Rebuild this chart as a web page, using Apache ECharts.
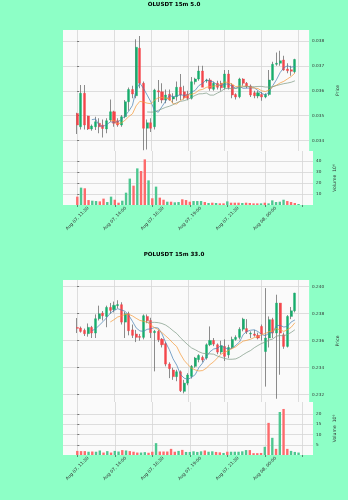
<!DOCTYPE html>
<html><head><meta charset="utf-8">
<script src="https://cdn.jsdelivr.net/npm/echarts@6/dist/echarts.min.js"></script>
<style>html,body{margin:0;padding:0;background:#8dffc6;}#c{width:348px;height:500px;}</style>
</head><body><div id="c"></div>
<script>
// ---------- data ----------
const xTickLabels = ['Aug 07, 11:30','Aug 07, 14:00','Aug 07, 16:30','Aug 07, 19:00','Aug 07, 21:30','Aug 08, 00:00'];
const xTickPositions = [0,10,20,30,40,50,60];
const xLabelPositions = [0,10,20,30,40,50];

const olTitle = 'OLUSDT 15m 5.0';
const olOpen = [0.03509,0.03456,0.0359,0.03499,0.03447,0.03456,0.0347,0.03463,0.03447,0.03483,
 0.03516,0.0348,0.03463,0.03496,0.03556,0.03605,0.0358,0.0377,0.0363,0.0345,
 0.03472,0.03456,0.036,0.03596,0.03563,0.03586,0.03567,0.03576,0.03614,0.03596,
 0.03586,0.0357,0.03636,0.03647,0.03679,0.03639,0.03643,0.03606,0.0363,0.0363,
 0.03613,0.03667,0.03623,0.03585,0.03576,0.03647,0.0363,0.03619,0.03592,0.03579,
 0.03585,0.03575,0.03585,0.03643,0.03706,0.0371,0.03723,0.03687,0.03684,0.03676];
const olHigh = [0.03512,0.03623,0.03623,0.0350,0.03465,0.03496,0.0349,0.03485,0.0349,0.03565,
 0.0352,0.0349,0.03503,0.03563,0.03613,0.0362,0.03806,0.03819,0.03637,0.03485,
 0.0349,0.03608,0.03643,0.0363,0.03605,0.03605,0.0359,0.03637,0.03667,0.0362,
 0.036,0.03655,0.03652,0.037,0.037,0.03648,0.0365,0.03636,0.0364,0.0364,
 0.03683,0.03683,0.0363,0.0359,0.03652,0.0365,0.03635,0.03625,0.036,0.036,
 0.03595,0.0359,0.03683,0.03716,0.03753,0.0376,0.0374,0.0371,0.037,0.03728];
const olLow = [0.03427,0.03445,0.03445,0.03443,0.0344,0.03443,0.0343,0.03413,0.0343,0.03476,
 0.03456,0.03456,0.03456,0.0349,0.0352,0.0357,0.0357,0.0361,0.03362,0.03365,
 0.03435,0.03445,0.03555,0.0355,0.0355,0.0356,0.0355,0.0356,0.03563,0.03565,
 0.03562,0.03565,0.03625,0.0364,0.03625,0.03632,0.036,0.036,0.03605,0.036,
 0.03605,0.03605,0.0357,0.03565,0.0357,0.0362,0.0361,0.03575,0.0357,0.0357,
 0.0356,0.0357,0.0358,0.0364,0.037,0.037,0.0368,0.0367,0.0366,0.0367];
const olClose = [0.03463,0.0359,0.03463,0.03447,0.03459,0.03476,0.03456,0.03449,0.0348,0.03516,
 0.0347,0.03463,0.03496,0.03556,0.03605,0.03587,0.03774,0.0363,0.0345,0.03472,
 0.0345,0.03603,0.03595,0.03563,0.03583,0.03563,0.03576,0.03614,0.03583,0.03572,
 0.0357,0.03636,0.03647,0.03679,0.03614,0.03643,0.03609,0.0363,0.03614,0.03612,
 0.03667,0.03613,0.03583,0.03575,0.03647,0.0363,0.03619,0.03583,0.0358,0.03592,
 0.03575,0.03585,0.03643,0.03706,0.0371,0.0372,0.03683,0.0368,0.03678,0.03725];
const olVolume = [7.6,15.8,15.2,4.5,3.9,3.6,3.3,5.8,2.7,7.6,
 4.8,2.1,3.9,11.2,24,17.6,33.3,30.9,41.5,22.4,
 6.1,16.7,6.7,4.8,3.0,3.0,2.4,2.7,5.2,4.5,
 3.0,3.6,3.6,3.6,2.7,1.8,2.1,1.8,1.5,1.5,
 3.3,2.1,2.1,2.1,1.8,2.1,1.8,1.5,1.5,1.5,
 2.1,1.5,4.2,2.7,3.0,4.8,3.6,2.7,1.8,0.9];
const olPriceTicks = [0.034,0.035,0.036,0.037,0.038];
const olVolTicks = [10,20,30,40];

const polTitle = 'POLUSDT 15m 33.0';
const polOpen = [0.23698,0.23694,0.23677,0.23652,0.23699,0.23657,0.23763,0.23805,0.2378,0.23847,
 0.2383,0.2386,0.23867,0.23738,0.238,0.2368,0.2365,0.23632,0.23625,0.2378,
 0.2375,0.2366,0.2367,0.23612,0.23578,0.23427,0.23383,0.23334,0.2337,0.23225,
 0.23286,0.23336,0.2341,0.2346,0.23477,0.23472,0.2357,0.23602,0.2357,0.23516,
 0.23558,0.23495,0.2355,0.2361,0.23625,0.23685,0.2369,0.2365,0.2365,0.2364,
 0.23706,0.2352,0.2362,0.23756,0.23657,0.23879,0.23644,0.23558,0.2378,0.23822];
const polHigh = [0.23768,0.23705,0.2369,0.23728,0.2371,0.23795,0.2386,0.2382,0.2386,0.2388,
 0.2389,0.239,0.23885,0.23815,0.23815,0.2372,0.2368,0.2365,0.23795,0.23795,
 0.2377,0.2368,0.2368,0.2362,0.2359,0.2344,0.234,0.23385,0.2338,0.2331,
 0.2336,0.2342,0.2348,0.235,0.2349,0.2358,0.23706,0.2362,0.2358,0.236,
 0.2361,0.2357,0.2363,0.2364,0.237,0.2377,0.2376,0.2367,0.2368,0.2366,
 0.2372,0.2399,0.2378,0.2377,0.23941,0.2388,0.2366,0.2379,0.2385,0.23955];
const polLow = [0.23657,0.2366,0.23635,0.2363,0.2362,0.2362,0.2375,0.2375,0.237,0.238,
 0.2381,0.2384,0.2372,0.2362,0.2364,0.2362,0.2359,0.236,0.2361,0.2373,
 0.2362,0.23373,0.2359,0.2355,0.2341,0.23323,0.2331,0.233,0.2322,0.2321,
 0.2327,0.2332,0.234,0.2344,0.2344,0.2346,0.2356,0.2356,0.235,0.235,
 0.2345,0.2347,0.2354,0.236,0.2361,0.2367,0.2365,0.2362,0.2363,0.2361,
 0.236,0.2326,0.2355,0.2362,0.2317,0.23348,0.2354,0.2355,0.2376,0.2381];
const polClose = [0.23692,0.23669,0.23652,0.23699,0.23657,0.23763,0.238,0.23785,0.23847,0.23825,
 0.23862,0.23868,0.23738,0.238,0.23674,0.2364,0.23625,0.23625,0.23785,0.23748,
 0.2366,0.2367,0.23607,0.2357,0.23427,0.23393,0.23334,0.2337,0.2323,0.23286,
 0.23346,0.2341,0.23472,0.23491,0.23457,0.2357,0.23602,0.23575,0.23516,0.23563,
 0.23484,0.2355,0.2361,0.23625,0.23685,0.2376,0.23665,0.23655,0.2364,0.2362,
 0.2365,0.2362,0.23756,0.23657,0.23879,0.23657,0.23558,0.2378,0.23822,0.23953];
const polVolume = [2.0,1.9,1.9,1.6,1.7,1.6,2.2,1.2,1.9,1.2,
 2.0,1.7,2.4,2.2,1.9,1.6,1.2,1.2,1.4,1.1,
 1.6,5.8,1.7,1.7,1.7,3.0,1.6,2.0,2.5,1.5,
 1.5,1.8,1.5,1.8,2.2,1.6,1.8,1.5,1.3,1.0,
 1.6,1.6,1.6,1.6,1.8,2.4,2.4,0.9,0.9,1.0,
 4.0,15.7,8.4,3.0,21.0,22.5,3.0,2.0,1.5,1.2];
const polPriceTicks = [0.232,0.234,0.236,0.238,0.240];
const polVolTicks = [5,10,15,20];

const maWindows = [5,10,20];

// ---------- styling ----------
const FONT = 'DejaVu Sans';
const UP = '#16ad6c', DOWN = '#f4454a', WICK = '#6e6e6e', VUP = '#4dc790', VDOWN = '#fd6b6c';
const MA_COLORS = ['#4a82b4', '#f59a3a', '#7f9a86'];
const GRIDC = '#d6d6d6', TXT = '#333';
const XMIN = -3.81, XMAX = 62.85;

function movingAvg(close, n) {
  const out = [];
  for (let i = n - 1; i < close.length; i++) {
    let s = 0; for (let k = i - n + 1; k <= i; k++) s += close[k];
    out.push([i, s / n]);
  }
  return out;
}

const panels = [
  {title: olTitle, titleTop: 2, top: 30, priceH: 121, volH: 54, o: olOpen, h: olHigh, l: olLow, c: olClose, v: olVolume,
   pMin: 0.03359, pMax: 0.03843, vMax: 49.1, pTicks: olPriceTicks, vTicks: olVolTicks},
  {title: polTitle, titleTop: 251.5, top: 280, priceH: 122, volH: 53, o: polOpen, h: polHigh, l: polLow, c: polClose, v: polVolume,
   pMin: 0.23146, pMax: 0.24050, vMax: 25.9, pTicks: polPriceTicks, vTicks: polVolTicks}
];

const option = {animation: false, backgroundColor: '#8dffc6', title: [], grid: [], xAxis: [], yAxis: [], series: []};

panels.forEach((p, k) => {
  const gP = k * 2, gV = k * 2 + 1;
  option.title.push({text: p.title, left: 'center', top: p.titleTop, padding: 0,
    textStyle: {fontFamily: FONT, fontSize: 5.6, fontWeight: 'bold', color: '#000'}});
  option.grid.push({left: 63, width: 250, top: p.top, height: p.priceH, show: true, backgroundColor: '#fafafa', borderWidth: 0});
  option.grid.push({left: 63, width: 250, top: p.top + p.priceH, height: p.volH, show: true, backgroundColor: '#fafafa', borderWidth: 0});
  [gP, gV].forEach(g => {
    const isVol = g === gV;
    option.xAxis.push({type: 'value', gridIndex: g, min: XMIN, max: XMAX,
      axisLine: {show: false},
      axisTick: {show: isVol, customValues: xTickPositions, length: 2, lineStyle: {color: TXT, width: 0.6}},
      axisLabel: {show: isVol, customValues: xLabelPositions, rotate: 45, align: 'center', verticalAlign: 'middle',
        margin: 13.5, fontSize: 4.4, fontFamily: FONT, color: TXT,
        formatter: v => xTickLabels[Math.round(v / 10)] || ''},
      splitLine: {show: true, lineStyle: {color: GRIDC, width: 0.8}}});
  });
  option.yAxis.push({type: 'value', gridIndex: gP, position: 'right', min: p.pMin, max: p.pMax,
    axisLine: {show: false},
    axisTick: {show: true, inside: false, customValues: p.pTicks, length: 2, lineStyle: {color: TXT, width: 0.6}},
    axisLabel: {customValues: p.pTicks, margin: 3, fontSize: 4.2, fontFamily: FONT, color: TXT, formatter: v => v.toFixed(3)},
    splitLine: {show: true, lineStyle: {color: GRIDC, width: 0.8}},
    name: 'Price', nameLocation: 'middle', nameRotate: 90, nameGap: 17,
    nameTextStyle: {fontSize: 4.6, fontFamily: FONT, color: TXT}});
  option.yAxis.push({type: 'value', gridIndex: gV, position: 'right', min: 0, max: p.vMax,
    axisLine: {show: false},
    axisTick: {show: true, inside: false, customValues: p.vTicks, length: 2, lineStyle: {color: TXT, width: 0.6}},
    axisLabel: {customValues: p.vTicks, margin: 3, fontSize: 4.2, fontFamily: FONT, color: TXT},
    splitLine: {show: true, lineStyle: {color: GRIDC, width: 0.8}},
    name: 'Volume  10\u2076', nameLocation: 'middle', nameRotate: 90, nameGap: 14,
    nameTextStyle: {fontSize: 4.6, fontFamily: FONT, color: TXT}});

  const wickData = p.o.map((o, i) => [i, o, p.c[i], p.l[i], p.h[i]]);
  const bodyData = p.o.map((o, i) => [i, o, p.c[i], Math.min(o, p.c[i]), Math.max(o, p.c[i])]);
  option.series.push({type: 'candlestick', xAxisIndex: gP, yAxisIndex: gP, data: wickData, barWidth: 0.4, z: 2,
    itemStyle: {color: WICK, color0: WICK, borderColor: WICK, borderColor0: WICK, borderWidth: 0.8}});
  option.series.push({type: 'candlestick', xAxisIndex: gP, yAxisIndex: gP, data: bodyData, barWidth: 2.6, z: 3,
    itemStyle: {color: UP, color0: DOWN, borderColor: UP, borderColor0: DOWN, borderWidth: 0.4}});
  maWindows.forEach((n, j) => {
    option.series.push({type: 'line', xAxisIndex: gP, yAxisIndex: gP, data: movingAvg(p.c, n), symbol: 'none', z: 4,
      lineStyle: {color: MA_COLORS[j], width: 0.8, opacity: 0.9}});
  });
  const volData = p.v.map((v, i) => {
    const up = i === 0 ? p.c[0] >= p.o[0] : p.c[i] >= p.c[i - 1];
    return {value: [i, v], itemStyle: {color: up ? VUP : VDOWN}};
  });
  option.series.push({type: 'bar', xAxisIndex: gV, yAxisIndex: gV, data: volData, barWidth: 2.4});
});

const chart = echarts.init(document.getElementById('c'), null, {renderer: 'canvas', width: 348, height: 500});
chart.setOption(option);
</script></body></html>
